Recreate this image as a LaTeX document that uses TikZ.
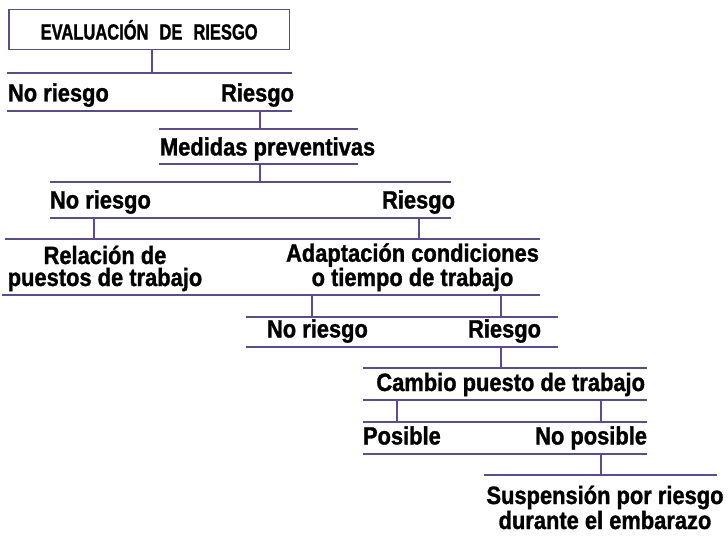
\documentclass[tikz,border=0pt]{standalone}
\usepackage{fontspec}
\setmainfont{Liberation Sans}
\newfontfamily\titlefont{Liberation Sans}[UprightFont={* Bold}, FakeStretch=0.75, FakeBold=1.2]
\newfontfamily\lblfont{Liberation Sans}[UprightFont={* Bold}, FakeStretch=0.875, FakeBold=1.2]
\definecolor{barc}{HTML}{5E4B8B}
\begin{document}
\begin{tikzpicture}[x=1pt,y=-1pt,
  barline/.style={draw=barc, line width=1.1pt},
  lbl/.style={inner sep=0pt, outer sep=0pt, font=\lblfont\fontsize{25}{22}\selectfont},
  lbltwo/.style={lbl, align=center},
  titlebox/.style={draw=barc, line width=1.2pt, inner sep=0pt, minimum width=280.5pt, minimum height=40pt,
    font=\titlefont\fontsize{22}{22}\selectfont},
]
\useasboundingbox (0,0) rectangle (728,540);

% title box
\node[titlebox, anchor=north west] (box) at (8.3,9.3) {EVALUACI\'ON\hspace{11pt}DE\hspace{11pt}RIESGO};

% bar coordinates
\coordinate (b1l) at (7,73);    \coordinate (b1r) at (292,73);
\coordinate (b2l) at (7,111);   \coordinate (b2r) at (292,111);
\coordinate (b3l) at (159,129); \coordinate (b3r) at (358,129);
\coordinate (b4l) at (159,164); \coordinate (b4r) at (358,164);
\coordinate (b5l) at (50,182);  \coordinate (b5r) at (451,182);
\coordinate (b6l) at (50,218);  \coordinate (b6r) at (451,218);
\coordinate (b7l) at (5,239);   \coordinate (b7r) at (540,239);
\coordinate (b8l) at (2,295);   \coordinate (b8r) at (540,295);
\coordinate (b9l) at (246,317); \coordinate (b9r) at (558,317);
\coordinate (b10l) at (246,347); \coordinate (b10r) at (558,347);
\coordinate (b11l) at (363,368); \coordinate (b11r) at (647,368);
\coordinate (b12l) at (363,400); \coordinate (b12r) at (647,400);
\coordinate (b13l) at (363,422); \coordinate (b13r) at (647,422);
\coordinate (b14l) at (363,454); \coordinate (b14r) at (647,454);
\coordinate (b15l) at (484,475); \coordinate (b15r) at (717,475);

\foreach \i in {1,...,15} { \draw[barline] (b\i l) -- (b\i r); }

% connector tops
\coordinate (c1) at (152,49.3);
\coordinate (c2) at (260,111);
\coordinate (c3) at (260,164);
\coordinate (c4) at (94,218);
\coordinate (c5) at (419,218);
\coordinate (c6) at (312,295);
\coordinate (c7) at (501,295);
\coordinate (c8) at (501,347);
\coordinate (c9) at (397,400);
\coordinate (c10) at (601,400);
\coordinate (c11) at (601,454);

\draw[barline] (c1) -- (c1 |- b1l);
\draw[barline] (c2) -- (c2 |- b3l);
\draw[barline] (c3) -- (c3 |- b5l);
\draw[barline] (c4) -- (c4 |- b7l);
\draw[barline] (c5) -- (c5 |- b7l);
\draw[barline] (c6) -- (c6 |- b9l);
\draw[barline] (c7) -- (c7 |- b9l);
\draw[barline] (c8) -- (c8 |- b11l);
\draw[barline] (c9) -- (c9 |- b13l);
\draw[barline] (c10) -- (c10 |- b13l);
\draw[barline] (c11) -- (c11 |- b15l);

% labels
\node[lbl, anchor=base west] (nr1) at (8,101.5) {No riesgo};
\node[lbl, anchor=base east] (r1) at (294,101.5) {Riesgo};
\node[lbl, anchor=base west] (mp) at (160,155.5) {Medidas preventivas};
\node[lbl, anchor=base west] (nr2) at (50,208.5) {No riesgo};
\node[lbl, anchor=base east] (r2) at (455,208.5) {Riesgo};
\node[lbltwo, anchor=base] (rel) at (105,286) {Relación de\\puestos de trabajo};
\node[lbltwo, anchor=base] (ada) at (412.5,286) {Adaptación condiciones\\o tiempo de trabajo};
\node[lbl, anchor=base west] (nr3) at (267,337.5) {No riesgo};
\node[lbl, anchor=base east] (r3) at (541,337.5) {Riesgo};
\node[lbl, anchor=base east] (cp) at (645,391) {Cambio puesto de trabajo};
\node[lbl, anchor=base west] (pos) at (363,444.5) {Posible};
\node[lbl, anchor=base east] (npos) at (647,444.5) {No posible};
\node[lbltwo, anchor=base, font=\lblfont\fontsize{25}{25}\selectfont] (sus) at (605,529) {Suspensión por riesgo\\durante el embarazo};
\end{tikzpicture}
\end{document}
